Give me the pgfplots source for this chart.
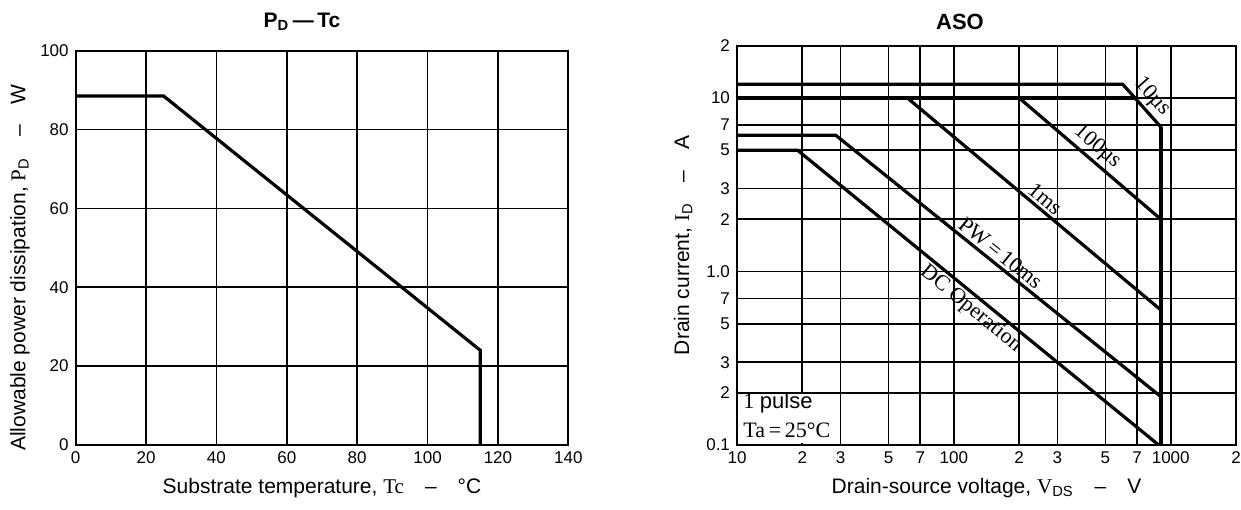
\documentclass[border=0pt]{standalone}
\usepackage{fontspec}
\setmainfont{Liberation Sans}
\newfontfamily\serif{Liberation Serif}
\usepackage{pgfplots}
\pgfplotsset{compat=1.18}

\pgfplotsset{
  chart/.style={
    scale only axis,
    anchor=south west,
    axis line style={line width=1.1pt},
    grid=major,
    major grid style={line width=0.8pt, black},
    major tick length=0pt,
    tick label style={font=\fontsize{8.5}{10}\selectfont},
    /pgf/number format/assume math mode=true,
    label style={font=\fontsize{10.5}{12}\selectfont},
  },
  curve/.style={line width=1.6pt, black, no marks},
}
\tikzset{note/.style={font=\serif\fontsize{11}{13}\selectfont, inner sep=1.8pt}}

\begin{document}
\begin{tikzpicture}
\path[use as bounding box] (0,0) rectangle (620.5pt,254.5pt);

% titles
\node[font=\bfseries\fontsize{10.5}{12}\selectfont] at (151pt,243.5pt) {P\textsubscript{D}\,---\,Tc};
\node[font=\bfseries\fontsize{11}{13}\selectfont] at (480pt,243.5pt) {ASO};

% PD - Tc
\begin{axis}[chart, at={(37.85pt,32pt)}, width=246.3pt, height=197.15pt,
  xmin=0, xmax=140, ymin=0, ymax=100,
  xtick={0,20,...,140}, ytick={0,20,...,100},
  xlabel={Substrate temperature, {\serif Tc}\quad--\quad °C},
  ylabel={Allowable power dissipation, {\serif P}\textsubscript{D}\quad--\quad W},
  ylabel style={at={(axis description cs:-0.113,0.45)}, anchor=center}]
  \addplot[curve] coordinates {(0,88.5) (25,88.5) (115,24) (115,0)};
\end{axis}

% ASO
\begin{axis}[chart, at={(368.5pt,32pt)}, width=249.5pt, height=199.65pt,
  xmode=log, ymode=log, xmin=10, xmax=2000, ymin=0.1, ymax=20,
  xtick={10,20,30,50,70,100,200,300,500,700,1000,2000},
  xticklabels={10,2,3,5,7,100,2,3,5,7,1000,2},
  ytick={0.1,0.2,0.3,0.5,0.7,1,2,3,5,7,10,20},
  yticklabels={0.1,2,3,5,7,1.0,2,3,5,7,10,2},
  xlabel={Drain-source voltage, {\serif V}\textsubscript{DS}\quad--\quad V},
  ylabel={Drain current, {\serif I}\textsubscript{D}\quad--\quad A},
  ylabel style={at={(axis description cs:-0.108,0.5)}, anchor=center}]
  % blank cell for the note
  \fill[white] (axis cs:10.3,0.103) rectangle (axis cs:29.3,0.196);

  \addplot[curve] coordinates {(10,12) (600,12) (900,6.8) (900,0.1)};
  \addplot[curve] coordinates {(10,10) (690,10)};
  \addplot[curve] coordinates {(200,10) (900,2)};
  \addplot[curve] coordinates {(61,10) (900,0.6)};
  \addplot[curve] coordinates {(10,6.1) (28.5,6.1) (900,0.19)};
  \addplot[curve] coordinates {(10,5) (19,5) (880,0.1)};
  \addplot[line width=2.2pt, black, no marks] coordinates {(900,6.8) (900,0.1)};

  % labels sit on the lines
  \node[note, anchor=south, rotate=-48.2] at (axis cs:736.6,9.01) {10µs};
  \node[note, anchor=south, rotate=-40.6] at (axis cs:416.6,4.56) {100µs};
  \node[note, anchor=south, rotate=-39.9] at (axis cs:244.2,2.35) {1ms};
  \node[note, anchor=south, rotate=-38.8] at (axis cs:152.4,1.135) {PW\,=\,10ms};
  \node[note, anchor=north, rotate=-39.2] at (axis cs:130.9,0.699) {DC Operation};
  \node[note, inner sep=0pt, anchor=west] at (axis cs:10.66,0.1746) {1 {\fontspec{Liberation Sans}pulse}};
  \node[note, inner sep=0pt, anchor=west] at (axis cs:10.66,0.122) {Ta\,=\,25°C};
\end{axis}
\end{tikzpicture}
\end{document}
